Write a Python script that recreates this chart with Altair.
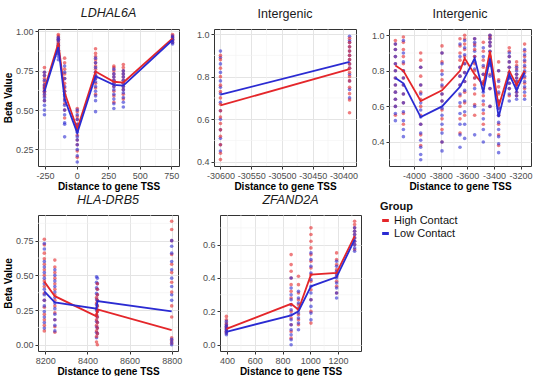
import altair as alt
import pandas as pd

GROUPS = ["High Contact", "Low Contact"]
COLORS = ["#E4262A", "#2B2BD2"]
FONT = "Liberation Sans"
X_TITLE = "Distance to gene TSS"
Y_TITLE = "Beta Value"
LEGEND_TITLE = "Group"

# ---------------- Panel 1 : LDHAL6A ----------------
P1_TITLE = "LDHAL6A"
P1_POS = [-255, -145, -95, 5, 150, 295, 370, 760]
P1_HIGH_MEAN = [0.635, 0.925, 0.61, 0.38, 0.745, 0.68, 0.675, 0.955]
P1_LOW_MEAN = [0.62, 0.90, 0.57, 0.355, 0.715, 0.66, 0.655, 0.945]
P1_HIGH_PTS = [
    [0.56, 0.59, 0.61, 0.62, 0.63, 0.64, 0.65, 0.66, 0.68, 0.70, 0.72, 0.74, 0.77],
    [0.86, 0.88, 0.90, 0.91, 0.92, 0.93, 0.94, 0.95, 0.96, 0.97, 0.98],
    [0.45, 0.50, 0.54, 0.57, 0.60, 0.62, 0.64, 0.67, 0.70, 0.73, 0.76, 0.80, 0.83],
    [0.20, 0.24, 0.28, 0.31, 0.34, 0.37, 0.39, 0.41, 0.44, 0.46, 0.49, 0.51],
    [0.60, 0.64, 0.67, 0.70, 0.72, 0.74, 0.76, 0.78, 0.80, 0.82, 0.84, 0.86, 0.89],
    [0.55, 0.59, 0.62, 0.65, 0.67, 0.69, 0.71, 0.73, 0.75, 0.77, 0.78],
    [0.57, 0.60, 0.63, 0.65, 0.67, 0.69, 0.71, 0.73, 0.75, 0.77, 0.79],
    [0.93, 0.94, 0.95, 0.96, 0.97, 0.98],
]
P1_LOW_PTS = [
    [0.47, 0.50, 0.53, 0.56, 0.58, 0.60, 0.62, 0.64, 0.66, 0.69, 0.72, 0.74],
    [0.82, 0.84, 0.86, 0.88, 0.89, 0.90, 0.91, 0.92, 0.94, 0.95, 0.96],
    [0.33, 0.41, 0.42, 0.47, 0.50, 0.53, 0.56, 0.59, 0.62, 0.65, 0.70, 0.74, 0.78],
    [0.17, 0.21, 0.25, 0.28, 0.31, 0.33, 0.36, 0.38, 0.41, 0.44, 0.47, 0.50],
    [0.49, 0.56, 0.59, 0.62, 0.65, 0.68, 0.70, 0.72, 0.74, 0.77, 0.80, 0.83],
    [0.51, 0.54, 0.57, 0.60, 0.63, 0.65, 0.67, 0.69, 0.71, 0.73, 0.76],
    [0.52, 0.55, 0.58, 0.61, 0.63, 0.65, 0.67, 0.69, 0.71, 0.73, 0.75],
    [0.92, 0.93, 0.94, 0.95, 0.96, 0.97],
]
P1_XTICKS = [-250, 0, 250, 500, 750]
P1_YTICKS = [0.25, 0.5, 0.75, 1.0]

# ---------------- Panel 2 : Intergenic ----------------
P2_TITLE = "Intergenic"
P2_POS = [-30600, -30390]
P2_HIGH_MEAN = [0.665, 0.835]
P2_LOW_MEAN = [0.715, 0.87]
P2_HIGH_PTS = [
    [0.41, 0.44, 0.48, 0.52, 0.55, 0.58, 0.61, 0.64, 0.67, 0.70, 0.73, 0.76, 0.80, 0.84, 0.88, 0.90],
    [0.63, 0.69, 0.72, 0.75, 0.78, 0.80, 0.82, 0.84, 0.86, 0.88, 0.90, 0.92, 0.94, 0.96, 0.98],
]
P2_LOW_PTS = [
    [0.45, 0.48, 0.51, 0.55, 0.60, 0.64, 0.68, 0.72, 0.75, 0.78, 0.82, 0.86, 0.89, 0.92],
    [0.70, 0.74, 0.78, 0.81, 0.84, 0.86, 0.88, 0.90, 0.92, 0.94, 0.96, 0.97, 0.99],
]
P2_XTICKS = [-30600, -30550, -30500, -30450, -30400]
P2_YTICKS = [0.4, 0.6, 0.8, 1.0]

# ---------------- Panel 3 : Intergenic ----------------
P3_TITLE = "Intergenic"
P3_POS = [-4140, -4080, -3950, -3790, -3655, -3620, -3545, -3480, -3430, -3365, -3285, -3230, -3170]
P3_HIGH_MEAN = [0.83, 0.80, 0.63, 0.69, 0.80, 0.87, 0.78, 0.72, 0.91, 0.60, 0.80, 0.72, 0.80]
P3_LOW_MEAN = [0.76, 0.73, 0.54, 0.60, 0.71, 0.76, 0.87, 0.68, 0.87, 0.54, 0.78, 0.69, 0.79]
P3_HIGH_PTS = [
    [0.55, 0.60, 0.64, 0.68, 0.72, 0.76, 0.80, 0.84, 0.88, 0.92, 0.95, 0.97],
    [0.50, 0.56, 0.62, 0.67, 0.72, 0.76, 0.80, 0.84, 0.88, 0.92, 0.96, 0.99],
    [0.38, 0.44, 0.50, 0.55, 0.60, 0.64, 0.68, 0.72, 0.77, 0.82, 0.86, 0.90],
    [0.40, 0.47, 0.53, 0.58, 0.63, 0.67, 0.71, 0.75, 0.80, 0.85, 0.90, 0.94],
    [0.45, 0.53, 0.60, 0.66, 0.72, 0.77, 0.82, 0.86, 0.90, 0.94, 0.98],
    [0.55, 0.62, 0.68, 0.74, 0.79, 0.84, 0.88, 0.92, 0.95, 0.98, 1.00],
    [0.55, 0.61, 0.67, 0.72, 0.76, 0.80, 0.84, 0.88, 0.92, 0.95, 0.98],
    [0.50, 0.56, 0.61, 0.66, 0.70, 0.74, 0.78, 0.82, 0.86, 0.91, 0.96],
    [0.60, 0.70, 0.78, 0.84, 0.88, 0.91, 0.94, 0.96, 0.98, 0.99, 1.00],
    [0.38, 0.44, 0.50, 0.55, 0.59, 0.63, 0.67, 0.71, 0.75, 0.80, 0.85],
    [0.66, 0.70, 0.73, 0.76, 0.79, 0.82, 0.85, 0.88, 0.91, 0.93],
    [0.66, 0.68, 0.70, 0.72, 0.74, 0.76, 0.78, 0.81, 0.83, 0.85],
    [0.66, 0.70, 0.73, 0.76, 0.79, 0.82, 0.85, 0.88, 0.91, 0.95],
]
P3_LOW_PTS = [
    [0.52, 0.56, 0.60, 0.64, 0.68, 0.72, 0.76, 0.80, 0.84, 0.88, 0.92, 0.95],
    [0.43, 0.47, 0.52, 0.57, 0.62, 0.67, 0.72, 0.76, 0.80, 0.85, 0.90, 0.97],
    [0.30, 0.33, 0.37, 0.41, 0.45, 0.50, 0.54, 0.58, 0.62, 0.67, 0.72, 0.82],
    [0.35, 0.40, 0.45, 0.50, 0.55, 0.59, 0.63, 0.67, 0.72, 0.78, 0.84, 0.90],
    [0.37, 0.44, 0.50, 0.56, 0.62, 0.67, 0.72, 0.77, 0.82, 0.88, 0.95],
    [0.42, 0.50, 0.57, 0.63, 0.69, 0.74, 0.79, 0.84, 0.89, 0.93, 0.97],
    [0.44, 0.60, 0.70, 0.76, 0.81, 0.85, 0.88, 0.91, 0.94, 0.96, 0.98],
    [0.40, 0.47, 0.53, 0.58, 0.63, 0.68, 0.73, 0.78, 0.83, 0.88, 0.93],
    [0.44, 0.60, 0.70, 0.77, 0.83, 0.87, 0.91, 0.94, 0.96, 0.98, 1.00],
    [0.34, 0.39, 0.43, 0.47, 0.51, 0.55, 0.59, 0.63, 0.68, 0.74, 0.80],
    [0.63, 0.67, 0.70, 0.73, 0.76, 0.79, 0.82, 0.85, 0.88, 0.90],
    [0.64, 0.66, 0.68, 0.70, 0.72, 0.74, 0.76, 0.78, 0.80, 0.82],
    [0.64, 0.68, 0.71, 0.74, 0.77, 0.80, 0.83, 0.86, 0.89, 0.92],
]
P3_XTICKS = [-4000, -3800, -3600, -3400, -3200]
P3_YTICKS = [0.4, 0.6, 0.8, 1.0]

# ---------------- Panel 4 : HLA-DRB5 ----------------
P4_TITLE = "HLA-DRB5"
P4_POS = [8195, 8245, 8443, 8447, 8800]
P4_HIGH_MEAN = [0.455, 0.35, 0.205, 0.255, 0.105]
P4_LOW_MEAN = [0.385, 0.305, 0.26, 0.315, 0.24]
P4_HIGH_PTS = [
    [0.10, 0.14, 0.18, 0.22, 0.27, 0.32, 0.37, 0.42, 0.46, 0.50, 0.54, 0.58, 0.62, 0.66, 0.72, 0.76],
    [0.09, 0.13, 0.18, 0.23, 0.28, 0.32, 0.36, 0.40, 0.44, 0.48, 0.52, 0.56, 0.61],
    [0.02, 0.06, 0.10, 0.14, 0.18, 0.22, 0.26, 0.30, 0.34],
    [0.00, 0.08, 0.12, 0.16, 0.20, 0.24, 0.28, 0.32, 0.36, 0.40, 0.44],
    [0.01, 0.03, 0.05, 0.20, 0.28, 0.38, 0.45, 0.52, 0.58, 0.65, 0.75, 0.83, 0.89],
]
P4_LOW_PTS = [
    [0.12, 0.16, 0.20, 0.24, 0.28, 0.32, 0.36, 0.40, 0.44, 0.48, 0.52, 0.56, 0.60, 0.69, 0.73],
    [0.10, 0.14, 0.18, 0.22, 0.26, 0.30, 0.34, 0.38, 0.42, 0.46, 0.50, 0.54],
    [0.05, 0.09, 0.13, 0.17, 0.21, 0.25, 0.29, 0.33, 0.37, 0.41, 0.45, 0.49],
    [0.08, 0.12, 0.16, 0.20, 0.24, 0.28, 0.32, 0.36, 0.40, 0.44, 0.48],
    [0.00, 0.02, 0.04, 0.32, 0.36, 0.42, 0.48, 0.54, 0.60, 0.66, 0.71, 0.75],
]
P4_XTICKS = [8200, 8400, 8600, 8800]
P4_YTICKS = [0.0, 0.25, 0.5, 0.75]

# ---------------- Panel 5 : ZFAND2A ----------------
P5_TITLE = "ZFAND2A"
P5_POS = [395, 862, 915, 1005, 1190, 1320]
P5_HIGH_MEAN = [0.095, 0.245, 0.21, 0.42, 0.43, 0.65]
P5_LOW_MEAN = [0.078, 0.176, 0.20, 0.35, 0.405, 0.63]
P5_HIGH_PTS = [
    [0.07, 0.08, 0.09, 0.10, 0.11, 0.12, 0.13, 0.15, 0.17],
    [0.04, 0.08, 0.12, 0.16, 0.20, 0.24, 0.28, 0.32, 0.36, 0.40, 0.44, 0.48, 0.54],
    [0.12, 0.15, 0.18, 0.21, 0.24, 0.27, 0.31, 0.36, 0.41],
    [0.13, 0.20, 0.27, 0.33, 0.38, 0.42, 0.46, 0.50, 0.54, 0.58, 0.62, 0.66, 0.70],
    [0.31, 0.35, 0.38, 0.41, 0.43, 0.45, 0.48, 0.51, 0.55],
    [0.57, 0.60, 0.62, 0.64, 0.66, 0.68, 0.70, 0.72, 0.74],
]
P5_LOW_PTS = [
    [0.06, 0.07, 0.08, 0.09, 0.10, 0.11, 0.12, 0.14],
    [0.00, 0.03, 0.06, 0.09, 0.12, 0.15, 0.18, 0.21, 0.24, 0.27, 0.30, 0.34, 0.40],
    [0.09, 0.13, 0.16, 0.19, 0.22, 0.25, 0.28, 0.32],
    [0.15, 0.19, 0.23, 0.27, 0.31, 0.35, 0.39, 0.43, 0.47, 0.51, 0.55],
    [0.28, 0.31, 0.34, 0.37, 0.40, 0.42, 0.44, 0.47, 0.50],
    [0.56, 0.58, 0.60, 0.62, 0.64, 0.66, 0.68, 0.70],
]
P5_XTICKS = [400, 600, 800, 1000, 1200]
P5_YTICKS = [0.0, 0.2, 0.4, 0.6]

LEGEND = alt.Legend(
    title=LEGEND_TITLE, orient="none", legendX=342, legendY=172,
    symbolType="stroke", symbolStrokeWidth=3, symbolSize=45, symbolOpacity=1,
    titleFont=FONT, titleFontSize=11, titleFontWeight="bold", titleColor="#111111",
    labelFont=FONT, labelFontSize=11, labelColor="#111111", labelOffset=3,
    rowPadding=0, titlePadding=3,
)


def minor_breaks(majors, dom):
    step = majors[1] - majors[0]
    ext = [majors[0] - step] + list(majors) + [majors[-1] + step]
    mids = [(a + b) / 2 for a, b in zip(ext[:-1], ext[1:])]
    return [m for m in mids if dom[0] <= m <= dom[1]]


def make_axis(majors, fmt, title, extent=None, fix_minus=False, title_pad=3):
    kw = dict(
        values=list(majors), format=fmt,
        labelFont=FONT, labelFontSize=9, labelColor="#4D4D4D",
        labelOverlap=False, labelFlush=False, labelPadding=2,
        tickSize=3, tickColor="#333333",
        gridColor="#E4E4E4", gridWidth=1.0,
        domain=False,
        titleFont=FONT, titleFontSize=10, titleFontWeight="bold", titleColor="#000000",
        titlePadding=title_pad,
    )
    if fix_minus:
        kw["labelExpr"] = "replace(datum.label, '\u2212', '-')"
    kw["title"] = title if title else None
    if extent is not None:
        kw["minExtent"] = extent
        kw["maxExtent"] = extent
    return alt.Axis(**kw)


def panel(title, italic, pos, hi_mean, lo_mean, hi_pts, lo_pts, xticks, yticks,
          xdom, ydom, yfmt, ytitle, yext, width, height):
    prow = []
    for i, xv in enumerate(pos):
        h, l = hi_pts[i], lo_pts[i]
        for k in range(max(len(h), len(l))):
            if k < len(h):
                prow.append({"x": xv, "y": h[k], "g": GROUPS[0]})
            if k < len(l):
                prow.append({"x": xv, "y": l[k], "g": GROUPS[1]})
    pts = pd.DataFrame(prow)
    lrow = []
    for g, means in zip(GROUPS, (hi_mean, lo_mean)):
        for xv, m in zip(pos, means):
            lrow.append({"x": xv, "y": m, "g": g})
    lines = pd.DataFrame(lrow)
    mx = pd.DataFrame({"x": minor_breaks(xticks, xdom)})
    my = pd.DataFrame({"y": minor_breaks(yticks, ydom)})

    xs = alt.Scale(domain=xdom, nice=False, zero=False)
    ys = alt.Scale(domain=ydom, nice=False, zero=False)
    xa = make_axis(xticks, "d", X_TITLE, fix_minus=xdom[0] < 0, title_pad=1)
    ya = make_axis(yticks, yfmt, ytitle, extent=yext)
    cs = alt.Scale(domain=GROUPS, range=COLORS)

    gx = alt.Chart(mx).mark_rule(color="#F2F2F2", strokeWidth=0.6).encode(
        x=alt.X("x:Q", scale=xs, axis=xa))
    gy = alt.Chart(my).mark_rule(color="#F2F2F2", strokeWidth=0.6).encode(
        y=alt.Y("y:Q", scale=ys, axis=ya))
    p = alt.Chart(pts).mark_circle(size=13, opacity=0.6, clip=True).encode(
        x=alt.X("x:Q", scale=xs, axis=xa),
        y=alt.Y("y:Q", scale=ys, axis=ya),
        color=alt.Color("g:N", scale=cs, legend=LEGEND),
    )
    ln = alt.Chart(lines).mark_line(strokeWidth=1.8, clip=True).encode(
        x=alt.X("x:Q", scale=xs, axis=xa),
        y=alt.Y("y:Q", scale=ys, axis=ya),
        color=alt.Color("g:N", scale=cs, legend=LEGEND),
    )
    t = alt.TitleParams(text=title, font=FONT, fontSize=12.5,
                        fontStyle="italic" if italic else "normal",
                        fontWeight="normal", color="#1A1A1A", anchor="middle", offset=8)
    return alt.layer(gx, gy, p, ln).properties(width=width, height=height, title=t)


c1 = panel(P1_TITLE, True, P1_POS, P1_HIGH_MEAN, P1_LOW_MEAN, P1_HIGH_PTS, P1_LOW_PTS,
           P1_XTICKS, P1_YTICKS, [-306, 811], [0.145, 1.015], ".2f", Y_TITLE, 22, 141, 137)
c2 = panel(P2_TITLE, False, P2_POS, P2_HIGH_MEAN, P2_LOW_MEAN, P2_HIGH_PTS, P2_LOW_PTS,
           P2_XTICKS, P2_YTICKS, [-30610.5, -30379.5], [0.38, 1.024], ".1f", None, 23, 142, 137)
c3 = panel(P3_TITLE, False, P3_POS, P3_HIGH_MEAN, P3_LOW_MEAN, P3_HIGH_PTS, P3_LOW_PTS,
           P3_XTICKS, P3_YTICKS, [-4188, -3122], [0.265, 1.035], ".1f", None, 20, 142, 137)
c4 = panel(P4_TITLE, True, P4_POS, P4_HIGH_MEAN, P4_LOW_MEAN, P4_HIGH_PTS, P4_LOW_PTS,
           P4_XTICKS, P4_YTICKS, [8165, 8830], [-0.045, 0.935], ".2f", Y_TITLE, 22, 140, 136)
c5 = panel(P5_TITLE, True, P5_POS, P5_HIGH_MEAN, P5_LOW_MEAN, P5_HIGH_PTS, P5_LOW_PTS,
           P5_XTICKS, P5_YTICKS, [349, 1366], [-0.037, 0.777], ".1f", None, 26, 141, 136)

top = alt.hconcat(c1, c2, c3, spacing=10)
bottom = alt.hconcat(c4, c5, spacing=10)
chart = alt.vconcat(top, bottom, spacing=1).properties(
    padding={"left": 2, "top": 6, "right": 5, "bottom": 0},
    background="white",
).configure_view(stroke="#333333", strokeWidth=1)

chart.save("out.html", embed_options={"renderer": "svg", "actions": False})
